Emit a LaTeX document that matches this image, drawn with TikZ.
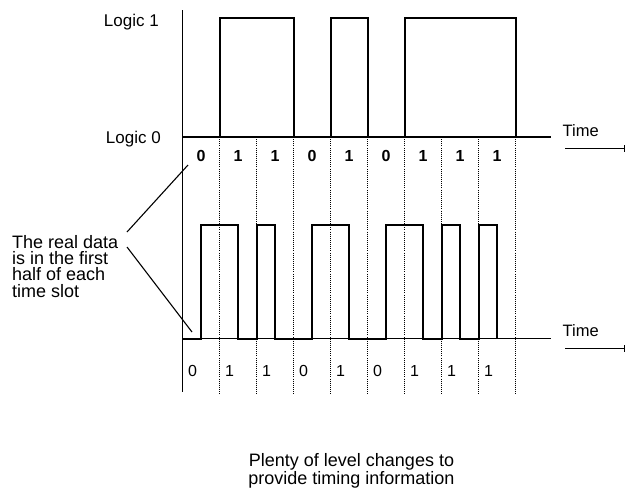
\documentclass[tikz,border=0pt]{standalone}
\usepackage{fontspec}
\setmainfont{Liberation Sans}
\usetikzlibrary{arrows.meta}
\begin{document}
\begin{tikzpicture}[x=1pt,y=-1pt,
  wave/.style={line width=2pt, line join=miter},
  axisline/.style={line width=1.9pt},
  gridline/.style={line width=0.9pt, dash pattern=on 0.8pt off 1.3pt},
  lbl/.style={font=\fontsize{17}{17}\selectfont, inner sep=0pt},
  timelbl/.style={font=\fontsize{16.5}{16.5}\selectfont, inner sep=0pt},
  bitbold/.style={font=\fontsize{16}{16}\selectfont\bfseries, inner sep=0pt},
  bitreg/.style={font=\fontsize{16}{16}\selectfont, inner sep=0pt},
  notetext/.style={font=\fontsize{18}{16.3}\selectfont, inner sep=0pt, align=left},
  captext/.style={font=\fontsize{18}{15}\selectfont, inner sep=0pt, align=center},
  noteline/.style={line width=1.1pt},
  timearrow/.style={line width=1.1pt, -{Bar[width=7pt,line width=1.1pt]}}
]
\useasboundingbox (0,0) rectangle (627,488);

% dotted slot boundaries
\foreach \i in {1,...,9}
  \draw[gridline] (182.5+37*\i,137) -- (182.5+37*\i,395);

% axes
\draw[axisline] (182.5,10) -- (182.5,392);
\draw[axisline] (182.5,137) -- (551,137);
\draw[axisline] (182.5,338.5) -- (551,338.5);

% top NRZ waveform
\draw[wave] (182.5,137) -- (219.5,137) -- (219.5,18) -- (293.5,18) -- (293.5,137)
  -- (330.5,137) -- (330.5,18) -- (367.5,18) -- (367.5,137)
  -- (404.5,137) -- (404.5,18) -- (515.5,18) -- (515.5,137);

% bottom Manchester waveform
\draw[wave] (182.5,338.5) -- (201,338.5) -- (201,225) -- (238,225) -- (238,338.5)
  -- (256.5,338.5) -- (256.5,225) -- (275,225) -- (275,338.5)
  -- (312,338.5) -- (312,225) -- (349,225) -- (349,338.5)
  -- (386,338.5) -- (386,225) -- (423,225) -- (423,338.5)
  -- (441.5,338.5) -- (441.5,225) -- (460,225) -- (460,338.5)
  -- (478.5,338.5) -- (478.5,225) -- (497,225) -- (497,338.5);

% level labels
\node[lbl, anchor=base east] (logic1) at (159,26) {Logic 1};
\node[lbl, anchor=base east] (logic0) at (161,143) {Logic 0};

% time labels and arrows
\node[timelbl, anchor=base west] (time1) at (562.5,136) {Time};
\node[timelbl, anchor=base west] (time2) at (562.5,336) {Time};
\coordinate (ta1) at (565,148.5);
\coordinate (tb1) at (625,148.5);
\coordinate (ta2) at (565,348.5);
\coordinate (tb2) at (625,348.5);
\draw[timearrow] (ta1) -- (tb1);
\draw[timearrow] (ta2) -- (tb2);

% bit labels
\foreach \b [count=\i] in {0,1,1,0,1,0,1,1,1}
  \node[bitbold] (tbit\i) at (182.5+37*\i-18.5,155.5) {\b};
\foreach \b [count=\i] in {0,1,1,0,1,0,1,1,1}
  \node[bitreg] (bbit\i) at (182.5+37*\i-27,371) {\b};

% annotation
\node[notetext, anchor=north west] (note) at (12,235)
  {The real data\\is in the first\\half of each\\time slot};
\coordinate (n1) at (127,232);
\coordinate (n2) at (127,247);
\coordinate (e1) at (188,165);
\coordinate (e2) at (192,332);
\draw[noteline] (n1) -- (e1);
\draw[noteline] (n2) -- (e2);

% caption
\node[captext, anchor=north] (caption) at (351.5,453)
  {Plenty of level changes to\\provide timing information};
\end{tikzpicture}
\end{document}
